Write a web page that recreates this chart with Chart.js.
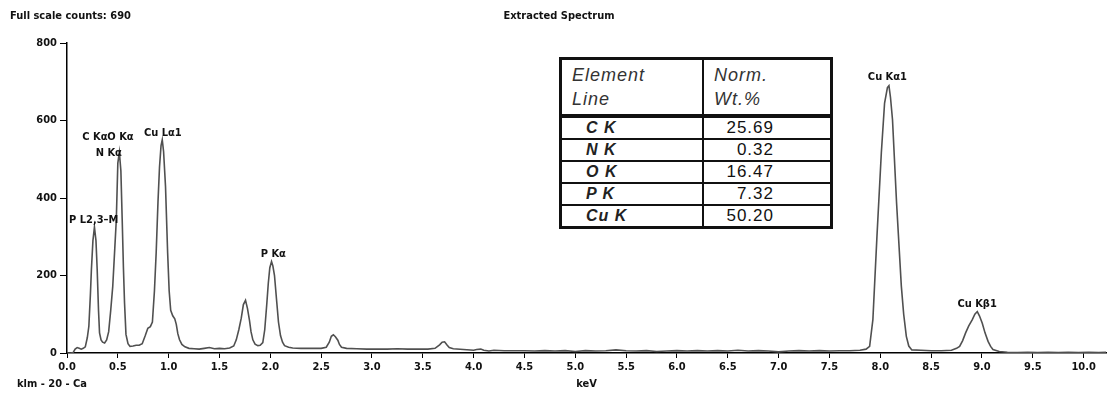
<!DOCTYPE html>
<html>
<head>
<meta charset="utf-8">
<script src="https://cdn.jsdelivr.net/npm/chart.js@4.4.1/dist/chart.umd.min.js"></script>
<style>
  body { margin: 0; background: #fff; }
  #wrap { position: relative; width: 1108px; height: 398px; }
  #resultTable {
    position: absolute; left: 559px; top: 57px;
    border-collapse: collapse; border: 3px solid #111;
    font-family: "Liberation Sans", Arial, sans-serif; background: #fff;
  }
  #resultTable td { border: 2px solid #111; padding: 0; height: 20px; }
  #resultTable tr.head td {
    height: 54px; border-bottom: 4px solid #111; font-style: italic;
    font-size: 18px; line-height: 24px; color: #333; letter-spacing: 1px;
    padding-left: 10px; vertical-align: middle;
  }
  #resultTable td.lbl { width: 116px; padding-left: 24px; font-style: italic; font-weight: bold; font-size: 16px; color: #222; letter-spacing: 1px; }
  #resultTable td.val { width: 70px; padding-right: 56px; text-align: right; font-size: 17px; color: #111; letter-spacing: 1px; }
</style>
</head>
<body>
<div id="wrap">
  <canvas id="myChart" width="1108" height="398"></canvas>
  <table id="resultTable"></table>
</div>
<script>
//spectrum: energy (keV) and counts
const spectrumKeV = [
  0.00, 0.02, 0.04, 0.06, 0.08, 0.10, 0.12, 0.14, 0.16, 0.18,
  0.20, 0.215, 0.23, 0.24, 0.255, 0.27, 0.285, 0.297, 0.31, 0.32,
  0.335, 0.35, 0.37, 0.39, 0.41, 0.43, 0.45, 0.47, 0.485, 0.50,
  0.515, 0.53, 0.543, 0.555, 0.566, 0.58, 0.60, 0.62, 0.65, 0.68,
  0.71, 0.74, 0.77, 0.795, 0.82, 0.84, 0.86, 0.877, 0.895, 0.91,
  0.925, 0.937, 0.95, 0.969, 0.99, 1.005, 1.02, 1.04, 1.06, 1.075,
  1.09, 1.107, 1.13, 1.16, 1.20, 1.25, 1.30, 1.35, 1.40, 1.45,
  1.50, 1.55, 1.60, 1.64, 1.665, 1.69, 1.714, 1.735, 1.756, 1.775,
  1.795, 1.81, 1.828, 1.85, 1.877, 1.90, 1.926, 1.945, 1.966, 1.98,
  1.995, 2.012, 2.025, 2.041, 2.064, 2.08, 2.10, 2.12, 2.14, 2.18,
  2.22, 2.30, 2.40, 2.50, 2.55, 2.58, 2.60, 2.62, 2.64, 2.664,
  2.68, 2.70, 2.75, 2.85, 2.95, 3.05, 3.15, 3.25, 3.35, 3.45,
  3.55, 3.62, 3.665, 3.69, 3.714, 3.74, 3.76, 3.80, 3.90, 4.00,
  4.03, 4.07, 4.10, 4.15, 4.20, 4.30, 4.40, 4.50, 4.60, 4.70,
  4.80, 4.90, 5.00, 5.10, 5.20, 5.30, 5.40, 5.50, 5.60, 5.70,
  5.80, 5.90, 6.00, 6.10, 6.20, 6.30, 6.40, 6.50, 6.60, 6.70,
  6.80, 6.90, 7.00, 7.10, 7.20, 7.30, 7.40, 7.50, 7.60, 7.70,
  7.80, 7.86, 7.895, 7.927, 7.967, 8.01, 8.042, 8.07, 8.085, 8.10,
  8.12, 8.16, 8.207, 8.23, 8.256, 8.28, 8.31, 8.40, 8.50, 8.60,
  8.70, 8.75, 8.78, 8.81, 8.839, 8.87, 8.905, 8.93, 8.954, 8.975,
  9.003, 9.03, 9.06, 9.085, 9.108, 9.17, 9.25, 9.35, 9.45, 9.55,
  9.65, 9.75, 9.85, 9.95, 10.05, 10.15, 10.22
];
const spectrumCounts = [
  0, 0, 0, 1, 10, 14, 12, 10, 12, 16,
  40, 69, 150, 215, 290, 325, 290, 215, 110, 52,
  34, 28, 26, 34, 55, 110, 172, 270, 344, 490,
  518, 470, 344, 220, 129, 48, 24, 17, 18, 20,
  20, 24, 45, 64, 68, 80, 160, 258, 390, 480,
  535, 550, 520, 430, 258, 160, 110, 96, 88, 74,
  50, 34, 22, 16, 12, 11, 10, 12, 14, 11,
  12, 11, 13, 18, 34, 60, 90, 125, 136, 115,
  84, 55, 34, 23, 19, 20, 27, 60, 129, 180,
  220, 236, 225, 200, 129, 80, 45, 28, 19, 15,
  13, 12, 12, 12, 15, 28, 43, 47, 42, 33,
  22, 15, 12, 11, 10, 10, 10, 11, 10, 10,
  10, 12, 21, 28, 29, 20, 14, 11, 9, 7,
  9, 10, 7, 5, 7, 6, 6, 6, 5, 6,
  5, 6, 4, 6, 5, 6, 8, 6, 5, 6,
  4, 5, 6, 5, 6, 5, 6, 5, 7, 5,
  6, 5, 3, 5, 6, 5, 6, 5, 6, 6,
  7, 10, 17, 86, 301, 516, 645, 685, 690, 660,
  602, 387, 172, 100, 43, 18, 8, 7, 6, 6,
  7, 12, 17, 32, 52, 70, 86, 100, 107, 96,
  77, 52, 30, 17, 9, 4, 2, 1, 2, 1,
  2, 1, 2, 1, 2, 1, 2
];

//axis ticks
const xTicks = [0, 0.5, 1, 1.5, 2, 2.5, 3, 3.5, 4, 4.5, 5, 5.5, 6, 6.5, 7, 7.5, 8, 8.5, 9, 9.5, 10];
const yTicks = [0, 200, 400, 600, 800];

//peak labels (text, keV, counts where the label sits)
const peakNames = ["P L2,3\u2013M", "C K\u03b1", "O K\u03b1", "N K\u03b1", "Cu L\u03b11", "P K\u03b1", "Cu K\u03b11", "Cu K\u03b21"];
const peakKeV = [0.263, 0.275, 0.526, 0.411, 0.943, 2.029, 8.07, 8.952];
const peakCounts = [344, 557, 557, 516, 568, 255, 711, 125];

//quantification table
const elementLines = ["C K", "N K", "O K", "P K", "Cu K"];
const normWt = ["25.69", "0.32", "16.47", "7.32", "50.20"];

const fullScale = 690;
const LABEL_FONT = 'bold 11px "DejaVu Sans Condensed", "DejaVu Sans", sans-serif';
const TEXT_COLOR = "#111";

//build the table
const table = document.getElementById("resultTable");
let rows = '<tr class="head"><td>Element<br>Line</td><td>Norm.<br>Wt.%</td></tr>';
elementLines.forEach((line, i) => {
  rows += '<tr><td class="lbl">' + line + '</td><td class="val">' + normWt[i] + '</td></tr>';
});
table.innerHTML = rows;

//draws the header texts, the peak labels and the bottom captions
const textPlugin = {
  id: "spectrumText",
  afterDatasetsDraw(chart) {
    const ctx = chart.ctx;
    const xs = chart.scales.x;
    const ys = chart.scales.y;
    const area = chart.chartArea;
    ctx.save();
    ctx.font = LABEL_FONT;
    ctx.fillStyle = TEXT_COLOR;
    ctx.textBaseline = "middle";

    ctx.textAlign = "left";
    ctx.fillText("Full scale counts: " + fullScale, 10, 16);
    ctx.fillText("klm - 20 - Ca", 17, 384);

    ctx.textAlign = "center";
    ctx.fillText("Extracted Spectrum", 559, 16);
    ctx.fillText("keV", (area.left + area.right) / 2, 384);

    peakNames.forEach((name, i) => {
      ctx.fillText(name, xs.getPixelForValue(peakKeV[i]), ys.getPixelForValue(peakCounts[i]));
    });
    ctx.restore();
  },
};

const ctx = document.getElementById("myChart").getContext("2d");

const chartData = {
  datasets: [
    {
      label: "spectrum",
      data: spectrumKeV.map((k, i) => ({ x: k, y: spectrumCounts[i] })),
      borderColor: "#505050",
      borderWidth: 1.6,
      pointRadius: 0,
      tension: 0,
      fill: false,
    },
  ],
};

const tickFont = { family: '"DejaVu Sans Condensed", "DejaVu Sans", sans-serif', size: 11, weight: "bold" };

const chartOptions = {
  responsive: false,
  animation: false,
  layout: { padding: { top: 43, right: 2, bottom: 0, left: 0 } },
  plugins: {
    legend: { display: false },
    tooltip: { enabled: false },
    title: { display: false },
  },
  scales: {
    x: {
      type: "linear",
      min: 0,
      max: 10.22,
      afterBuildTicks: (scale) => {
        scale.ticks = xTicks.map((v) => ({ value: v }));
      },
      afterFit: (scale) => {
        scale.height = 45;
      },
      ticks: {
        color: TEXT_COLOR,
        font: tickFont,
        padding: 3,
        maxRotation: 0,
        autoSkip: false,
        callback: (v) => Number(v).toFixed(1),
      },
      grid: { drawOnChartArea: false, drawTicks: true, tickLength: 5, color: "#000", tickColor: "#000", tickWidth: 1 },
      border: { display: true, color: "#000", width: 1.5 },
    },
    y: {
      type: "linear",
      min: 0,
      max: 800,
      afterBuildTicks: (scale) => {
        scale.ticks = yTicks.map((v) => ({ value: v }));
      },
      afterFit: (scale) => {
        scale.width = 67;
      },
      ticks: { color: TEXT_COLOR, font: tickFont, padding: 3 },
      grid: { drawOnChartArea: false, drawTicks: true, tickLength: 7, color: "#000", tickColor: "#000", tickWidth: 1 },
      border: { display: true, color: "#000", width: 1.5 },
    },
  },
};

new Chart(ctx, {
  type: "line",
  data: chartData,
  options: chartOptions,
  plugins: [textPlugin],
});
</script>
</body>
</html>
